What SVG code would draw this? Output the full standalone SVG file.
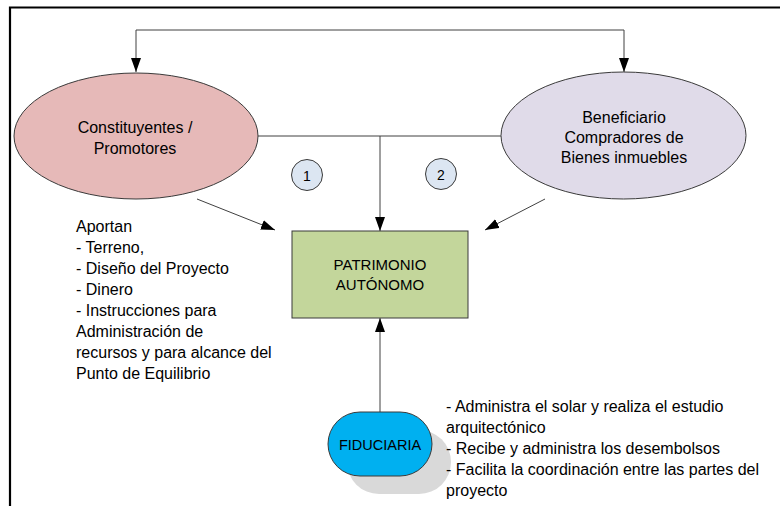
<svg xmlns="http://www.w3.org/2000/svg" width="780" height="506" viewBox="0 0 780 506">
<style>
text{font-family:"Liberation Sans",Arial,sans-serif;font-size:16px;fill:#000}
.c{text-anchor:middle}
.node{stroke:#3a3a3a;stroke-width:1}
.conn{fill:none;stroke:#404040;stroke-width:1}
</style>
<defs>
<marker id="ah" markerUnits="userSpaceOnUse" markerWidth="14" markerHeight="10" refX="14" refY="5" orient="auto-start-reverse" viewBox="0 0 14 10">
<path d="M0,0 L14,5 L0,10 z" fill="#000"/>
</marker>
</defs>
<rect width="780" height="506" fill="#fff"/>
<path d="M10,506 V7.5 H780" fill="none" stroke="#000" stroke-width="2.2"/>
<g id="connectors">
<path class="conn" d="M136,72 V30 H624 V72" marker-start="url(#ah)" marker-end="url(#ah)"/>
<path class="conn" d="M258,136 H501"/>
<path class="conn" d="M380,136 V231" marker-end="url(#ah)"/>
<path class="conn" d="M197,199 L275,230" marker-end="url(#ah)"/>
<path class="conn" d="M545,199 L485,230" marker-end="url(#ah)"/>
<path class="conn" d="M380,412 V318" marker-end="url(#ah)"/>
</g>
<g id="constituyentes">
<ellipse class="node" cx="136" cy="136" rx="122" ry="63" fill="#e6b9b8"/>
<text class="c" x="135" y="132.5">Constituyentes /</text>
<text class="c" x="135" y="153.5">Promotores</text>
</g>
<g id="beneficiario">
<ellipse class="node" cx="623.5" cy="135.5" rx="122.5" ry="63.5" fill="#e0dbe9"/>
<text class="c" x="624" y="122.5">Beneficiario</text>
<text class="c" x="624" y="143">Compradores de</text>
<text class="c" x="624" y="163">Bienes inmuebles</text>
</g>
<g id="badge1">
<circle class="node" cx="307" cy="175" r="15.5" fill="#dce6f2"/>
<text class="c" x="307" y="180.5" style="font-size:14px">1</text>
</g>
<g id="badge2">
<circle class="node" cx="441" cy="174" r="15.5" fill="#dce6f2"/>
<text class="c" x="441" y="179.5" style="font-size:14px">2</text>
</g>
<g id="patrimonio">
<rect class="node" x="292" y="231" width="176" height="87" fill="#c3d69b"/>
<text class="c" x="380" y="270" style="font-size:15px">PATRIMONIO</text>
<text class="c" x="380" y="290" style="font-size:15px">AUTÓNOMO</text>
</g>
<g id="aportan">
<text x="76" y="231.5">Aportan</text>
<text x="76" y="252.5">- Terreno,</text>
<text x="76" y="273.5">- Diseño del Proyecto</text>
<text x="76" y="294.5">- Dinero</text>
<text x="76" y="315.5">- Instrucciones para</text>
<text x="76" y="336.5">Administración de</text>
<text x="76" y="357.5">recursos y para alcance del</text>
<text x="76" y="378.5">Punto de Equilibrio</text>
</g>
<g id="fiduciaria">
<rect x="347" y="430" width="104" height="64" rx="32" fill="#d9d9d9"/>
<rect class="node" x="328" y="412" width="104" height="64" rx="32" fill="#00b0f0"/>
<text class="c" x="380" y="450" style="font-size:14.5px">FIDUCIARIA</text>
</g>
<g id="fiduciaria-notes">
<text x="446" y="412">- Administra el solar y realiza el estudio</text>
<text x="446" y="433">arquitectónico</text>
<text x="446" y="454">- Recibe y administra los desembolsos</text>
<text x="446" y="475">- Facilita la coordinación entre las partes del</text>
<text x="446" y="496">proyecto</text>
</g>
</svg>
